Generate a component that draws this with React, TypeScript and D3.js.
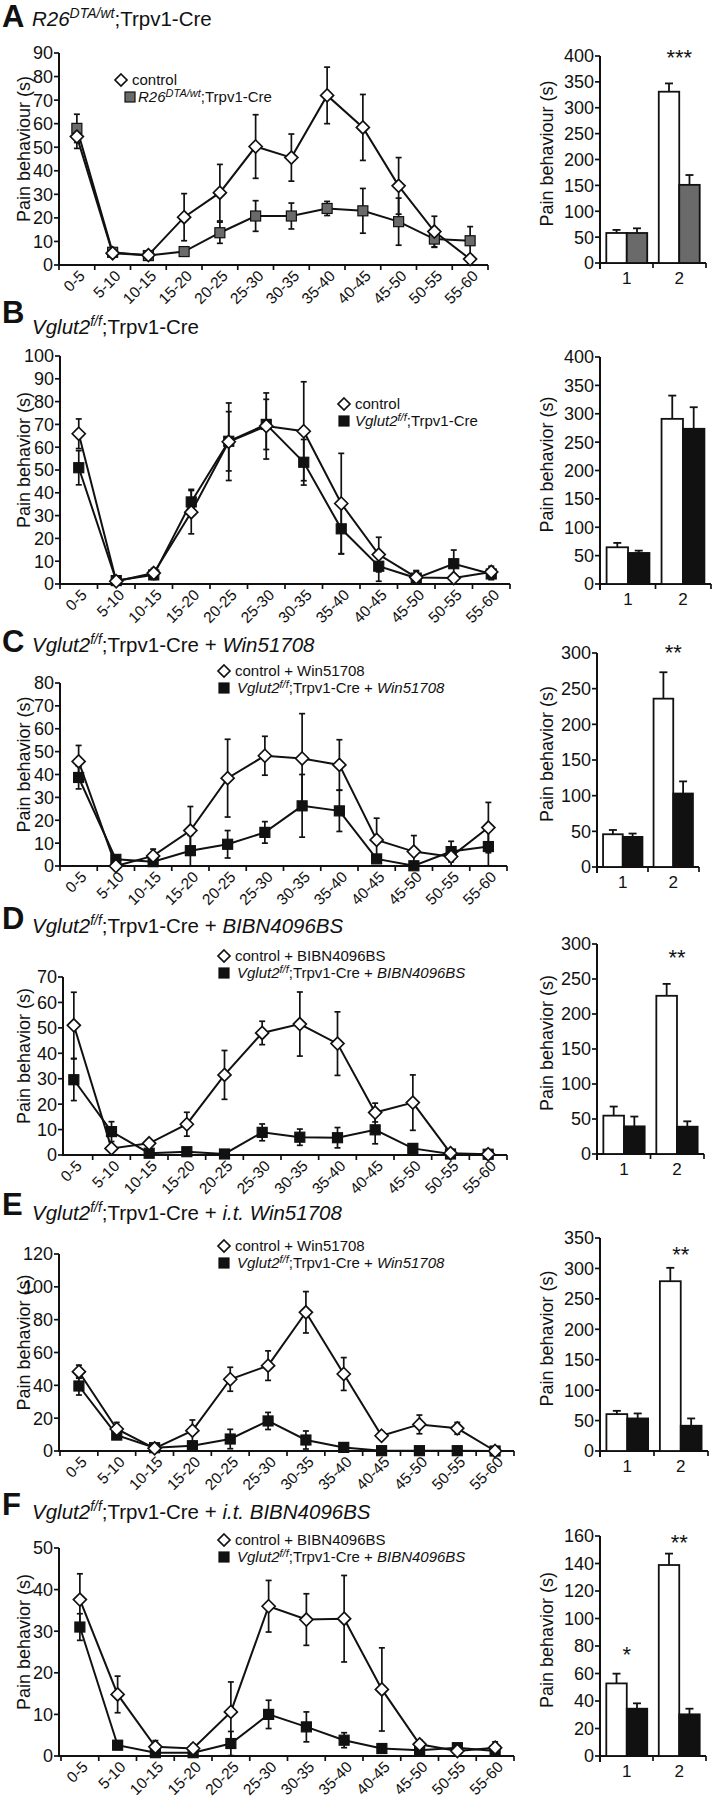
import React from "react";
import * as d3 from "d3";

const FONT = "'Liberation Sans', Arial, Helvetica, sans-serif";

const timeBins = ["0-5","5-10","10-15","15-20","20-25","25-30","30-35","35-40","40-45","45-50","50-55","55-60"];
const barGroups = ["1", "2"];

// Panel A
const controlA = [54.5, 5, 4.2, 20.3, 30.7, 50.3, 45.6, 72, 58.4, 33.6, 14.2, 2.5];
const controlAErr = [5, 1.5, 1.5, 10, 12, 13.5, 10, 12, 14, 12, 6.5, 1.5];
const mutantA = [58, 5.4, 4, 5.7, 13.7, 20.8, 20.8, 24, 23, 18.4, 11, 10.3];
const mutantAErr = [6, 1.5, 1.5, 1, 4.5, 6.5, 5.5, 3, 9.5, 10, 3.5, 6];
const barCtrlA = [58, 331];
const barCtrlAErr = [6, 16];
const barMutA = [58, 151];
const barMutAErr = [9, 19];

// Panel B
const controlB = [65.9, 1.2, 4.8, 31.5, 62.4, 69.3, 67, 35.3, 12.9, 2.9, 2.6, 5.3];
const controlBErr = [6.5, 1, 2, 9.5, 17, 14.5, 21.7, 22, 7.6, 3, 1.5, 2.5];
const mutantB = [51, 1.5, 4, 36, 62.6, 70, 53.4, 24.2, 7.8, 2.6, 8.9, 4.4];
const mutantBErr = [7.5, 1, 2, 5.5, 13, 11, 10, 11, 6.6, 3, 6, 2.5];
const barCtrlB = [64.7, 291];
const barCtrlBErr = [7.7, 41];
const barMutB = [54.7, 273.5];
const barMutBErr = [4.1, 38];

// Panel C
const controlC = [45.7, 0, 4.4, 15.5, 38.4, 48.2, 47, 44.2, 11.4, 6.3, 4.1, 16.8];
const controlCErr = [7, 1, 3, 10.5, 17, 8.5, 19.6, 11, 9.5, 7, 4, 11];
const mutantC = [38.7, 2.9, 1.9, 6.7, 9.5, 14.7, 26.3, 24.1, 3.1, 0.1, 6.3, 8.5];
const mutantCErr = [5, 1, 1, 6.7, 6, 4.7, 13.7, 9, 1, 0.5, 4.5, 8.5];
const barCtrlC = [45.9, 236];
const barCtrlCErr = [6, 37];
const barMutC = [42.2, 103];
const barMutCErr = [4.7, 17];

// Panel D
const controlD = [51, 2.6, 4.6, 12.1, 31.5, 48, 51.5, 43.8, 16.7, 20.6, 0.7, 0.3];
const controlDErr = [13, 1, 1, 4.7, 9.6, 4.6, 12.6, 12.5, 3.7, 10.9, 0.5, 0.3];
const mutantD = [29.6, 9.2, 0.7, 1.3, 0.4, 8.9, 7, 6.8, 9.9, 2.6, 0.4, 0.3];
const mutantDErr = [8.2, 3.9, 0.5, 0.5, 0.3, 3.3, 3.2, 4, 5.5, 0.8, 0.3, 0.3];
const barCtrlD = [54.8, 226];
const barCtrlDErr = [13, 17];
const barMutD = [39.5, 39];
const barMutDErr = [14, 7.7];

// Panel E
const controlE = [48.3, 13.4, 1.6, 12.4, 43.7, 52, 84.5, 46.9, 9.3, 16.2, 13.8, 0];
const controlEErr = [4, 4, 1, 6.5, 7.3, 9, 12.6, 10, 2, 5.7, 3.6, 0.5];
const mutantE = [39.6, 9.7, 2, 3.2, 7.3, 18.3, 6.7, 2.2, 0.2, 0.2, 0.2, 0];
const mutantEErr = [5.5, 2, 1, 1, 5.9, 5.2, 5.5, 0.5, 0.2, 0.2, 0.2, 0];
const barCtrlE = [60.6, 279];
const barCtrlEErr = [5.4, 22];
const barMutE = [53.5, 41.5];
const barMutEErr = [8.2, 12];

// Panel F
const controlF = [37.6, 14.8, 2.2, 1.8, 10.6, 36, 32.8, 33, 16, 2.8, 1.2, 2];
const controlFErr = [6.2, 4.4, 1.5, 1, 7.2, 6.2, 6.2, 10.4, 10, 1, 0.5, 1.4];
const mutantF = [31, 2.6, 0.8, 0.8, 3, 10, 7, 3.8, 1.8, 1.4, 2, 1.2];
const mutantFErr = [3.2, 1, 0.5, 0.5, 2.9, 3.4, 3.6, 1.8, 0.5, 0.5, 0.5, 0.5];
const barCtrlF = [52.8, 138.9];
const barCtrlFErr = [7.1, 8.3];
const barMutF = [34.4, 30.3];
const barMutFErr = [3.9, 4.1];

type Part = { t: string; i?: boolean; sup?: boolean };

const INK = "#111";

function RichText({ x, y, parts, size, supSize }: { x: number; y: number; parts: Part[]; size: number; supSize: number }) {
  const out: any[] = [];
  let shifted = false;
  parts.forEach((p, k) => {
    let dy = 0;
    if (p.sup && !shifted) { dy = -size * 0.38; shifted = true; }
    else if (!p.sup && shifted) { dy = size * 0.38; shifted = false; }
    out.push(
      <tspan key={k} dy={dy} fontStyle={p.i ? "italic" : "normal"} fontSize={p.sup ? supSize : size}>{p.t}</tspan>
    );
  });
  return <text x={x} y={y} fontFamily={FONT} fontSize={size} fill={INK}>{out}</text>;
}

function Diamond({ x, y, r }: { x: number; y: number; r: number }) {
  return <path d={`M${x},${y - r}L${x + r},${y}L${x},${y + r}L${x - r},${y}Z`} fill="#fff" stroke={INK} strokeWidth={1.7} />;
}
function Square({ x, y, s, fill }: { x: number; y: number; s: number; fill: string }) {
  return <rect x={x - s / 2} y={y - s / 2} width={s} height={s} fill={fill} stroke={INK} strokeWidth={1.2} />;
}

type LineProps = {
  ctrl: number[]; ctrlErr: number[]; mut: number[]; mutErr: number[]; mutColor: string;
  yMax: number; yStep: number; axisX: number; bandStart: number; bandEnd: number; yTop: number; yBottom: number;
  yLabel: string; legendX: number; legendY: number; legendSqDx: number; legendTextDx2: number; ctrlLabel: string; mutLabel: Part[];
};

function LineChart(p: LineProps) {
  const x = d3.scaleBand<string>().domain(timeBins).range([p.bandStart, p.bandEnd]);
  const y = d3.scaleLinear().domain([0, p.yMax]).range([p.yBottom, p.yTop]);
  const cx = (i: number) => (x(timeBins[i]) as number) + x.bandwidth() / 2;
  const line = d3.line<number>().x((_, i) => cx(i)).y((d) => y(d));
  const yTicks = d3.range(0, p.yMax + p.yStep / 2, p.yStep);
  const xTickPos = timeBins.map((b) => x(b) as number).concat([p.bandEnd]).filter((v) => v >= p.axisX - 0.5);
  const err = (vals: number[], errs: number[], key: string) =>
    vals.map((v, i) => {
      const e = errs[i];
      if (e <= 0.3) return null;
      const X = cx(i);
      const y1 = y(v + e), y2 = y(Math.max(0, v - e));
      return (
        <g key={key + i} stroke={INK} strokeWidth={1.7}>
          <line x1={X} x2={X} y1={y1} y2={y2} />
          <line x1={X - 3} x2={X + 3} y1={y1} y2={y1} />
          <line x1={X - 3} x2={X + 3} y1={y2} y2={y2} />
        </g>
      );
    });
  return (
    <g>
      <line x1={p.axisX} x2={p.axisX} y1={p.yTop} y2={p.yBottom + 1} stroke={INK} strokeWidth={2} />
      <line x1={p.axisX} x2={p.bandEnd} y1={p.yBottom} y2={p.yBottom} stroke={INK} strokeWidth={2} />
      {yTicks.map((t) => (
        <g key={"yt" + t}>
          <line x1={p.axisX - 5} x2={p.axisX} y1={y(t)} y2={y(t)} stroke={INK} strokeWidth={1.7} />
          <text x={p.axisX - 6} y={y(t)} dy="0.36em" textAnchor="end" fontFamily={FONT} fontSize={18} fill={INK}>{t}</text>
        </g>
      ))}
      {xTickPos.map((v, k) => (
        <line key={"xt" + k} x1={v} x2={v} y1={p.yBottom} y2={p.yBottom + 5} stroke={INK} strokeWidth={1.7} />
      ))}
      {timeBins.map((b, i) => (
        <text key={"xl" + b} transform={`translate(${cx(i) + 9},${p.yBottom + 12}) rotate(-45)`} textAnchor="end" fontFamily={FONT} fontSize={15.5} fill={INK}>{b}</text>
      ))}
      <text transform={`translate(30,${(p.yTop + p.yBottom) / 2 - 10}) rotate(-90)`} textAnchor="middle" fontFamily={FONT} fontSize={18} fill={INK}>{p.yLabel}</text>
      <path d={line(p.mut) || ""} fill="none" stroke={INK} strokeWidth={2} />
      <path d={line(p.ctrl) || ""} fill="none" stroke={INK} strokeWidth={2} />
      {err(p.mut, p.mutErr, "me")}
      {err(p.ctrl, p.ctrlErr, "ce")}
      {p.mut.map((v, i) => <Square key={"ms" + i} x={cx(i)} y={y(v)} s={10} fill={p.mutColor} />)}
      {p.ctrl.map((v, i) => <Diamond key={"cd" + i} x={cx(i)} y={y(v)} r={6.5} />)}
      <Diamond x={p.legendX} y={p.legendY} r={6} />
      <text x={p.legendX + 11} y={p.legendY} dy="0.36em" fontFamily={FONT} fontSize={15} fill={INK}>{p.ctrlLabel}</text>
      <Square x={p.legendX + p.legendSqDx} y={p.legendY + 17} s={10} fill={p.mutColor} />
      <RichText x={p.legendX + p.legendTextDx2} y={p.legendY + 17 + 5.4} parts={p.mutLabel} size={15} supSize={11} />
    </g>
  );
}

type BarProps = {
  ctrl: number[]; ctrlErr: number[]; mut: number[]; mutErr: number[]; mutColor: string;
  yMax: number; yStep: number; axisX: number; axisEnd: number; yTop: number; yBottom: number; yLabel: string;
  stars: { g: number; v: number; s: string }[];
};

function BarChart(p: BarProps) {
  const xg = d3.scaleBand<string>().domain(barGroups).range([p.axisX, p.axisEnd]).paddingInner(0.22).paddingOuter(0.12);
  const xs = d3.scaleBand<string>().domain(["c", "m"]).range([0, xg.bandwidth()]);
  const y = d3.scaleLinear().domain([0, p.yMax]).range([p.yBottom, p.yTop]);
  const yTicks = d3.range(0, p.yMax + p.yStep / 2, p.yStep);
  const mid = (p.axisX + p.axisEnd) / 2;
  const bars = (vals: number[], errs: number[], key: string, fill: string) =>
    vals.map((v, i) => {
      const bx = (xg(barGroups[i]) as number) + (xs(key) as number);
      const w = xs.bandwidth();
      const X = bx + w / 2;
      const yt = y(v), ye = y(v + errs[i]);
      return (
        <g key={key + i}>
          <line x1={X} x2={X} y1={yt} y2={ye} stroke={INK} strokeWidth={1.8} />
          <line x1={X - 4} x2={X + 4} y1={ye} y2={ye} stroke={INK} strokeWidth={1.8} />
          <rect x={bx} y={yt} width={w} height={p.yBottom - yt} fill={fill} stroke={INK} strokeWidth={1.8} />
        </g>
      );
    });
  return (
    <g>
      <line x1={p.axisX} x2={p.axisX} y1={p.yTop} y2={p.yBottom + 6} stroke={INK} strokeWidth={2} />
      <line x1={p.axisX} x2={p.axisEnd} y1={p.yBottom} y2={p.yBottom} stroke={INK} strokeWidth={2} />
      <line x1={mid} x2={mid} y1={p.yBottom} y2={p.yBottom + 5} stroke={INK} strokeWidth={1.7} />
      <line x1={p.axisEnd} x2={p.axisEnd} y1={p.yBottom} y2={p.yBottom + 5} stroke={INK} strokeWidth={1.7} />
      {yTicks.map((t) => (
        <g key={"byt" + t}>
          <line x1={p.axisX - 5} x2={p.axisX} y1={y(t)} y2={y(t)} stroke={INK} strokeWidth={1.7} />
          <text x={p.axisX - 6} y={y(t)} dy="0.36em" textAnchor="end" fontFamily={FONT} fontSize={18} fill={INK}>{t}</text>
        </g>
      ))}
      {barGroups.map((g) => (
        <text key={"bx" + g} x={(xg(g) as number) + xg.bandwidth() / 2} y={p.yBottom + 21} textAnchor="middle" fontFamily={FONT} fontSize={17} fill={INK}>{g}</text>
      ))}
      <text transform={`translate(553,${(p.yTop + p.yBottom) / 2 - 6}) rotate(-90)`} textAnchor="middle" fontFamily={FONT} fontSize={18} fill={INK}>{p.yLabel}</text>
      {bars(p.ctrl, p.ctrlErr, "c", "#fff")}
      {bars(p.mut, p.mutErr, "m", p.mutColor)}
      {p.stars.map((s, k) => (
        <text key={"st" + k} x={(xg(barGroups[s.g]) as number) + xg.bandwidth() / 2} y={y(s.v) + 12} textAnchor="middle" fontFamily={FONT} fontSize={22} fill={INK}>{s.s}</text>
      ))}
    </g>
  );
}

function Title({ letter, letterY, titleY, parts }: { letter: string; letterY: number; titleY: number; parts: Part[] }) {
  return (
    <g>
      <text x={2} y={letterY} fontFamily={FONT} fontWeight="bold" fontSize={31} fill={INK}>{letter}</text>
      <RichText x={32} y={titleY} parts={parts} size={20.5} supSize={14} />
    </g>
  );
}

const vglut: Part[] = [{ t: "Vglut2", i: true }, { t: "f/f", i: true, sup: true }, { t: ";Trpv1-Cre" }];
const r26: Part[] = [{ t: "R26", i: true }, { t: "DTA/wt", i: true, sup: true }, { t: ";Trpv1-Cre" }];

export default function App() {
  const GRAY = "#6a6a6a";
  const BLACK = "#111";
  return (
    <svg width={715} height={1800} style={{ position: "absolute", left: 0, top: 0, background: "#fff" }}>
      <rect width={715} height={1800} fill="#fff" />
      {/* A */}
      <Title letter="A" letterY={27} titleY={26} parts={r26} />
      <LineChart ctrl={controlA} ctrlErr={controlAErr} mut={mutantA} mutErr={mutantAErr} mutColor={GRAY}
        yMax={90} yStep={10} axisX={59} bandStart={59} bandEnd={488} yTop={53} yBottom={265}
        yLabel="Pain behaviour (s)" legendX={121} legendY={80} legendSqDx={9} legendTextDx2={17}
        ctrlLabel="control" mutLabel={r26} />
      <BarChart ctrl={barCtrlA} ctrlErr={barCtrlAErr} mut={barMutA} mutErr={barMutAErr} mutColor={GRAY}
        yMax={400} yStep={50} axisX={600} axisEnd={706} yTop={56} yBottom={263} yLabel="Pain behaviour (s)"
        stars={[{ g: 1, v: 405, s: "***" }]} />

      {/* B */}
      <Title letter="B" letterY={323} titleY={334} parts={vglut} />
      <LineChart ctrl={controlB} ctrlErr={controlBErr} mut={mutantB} mutErr={mutantBErr} mutColor={BLACK}
        yMax={100} yStep={10} axisX={60} bandStart={60} bandEnd={510} yTop={356} yBottom={584}
        yLabel="Pain behavior (s)" legendX={344} legendY={404} legendSqDx={0} legendTextDx2={11}
        ctrlLabel="control" mutLabel={vglut} />
      <BarChart ctrl={barCtrlB} ctrlErr={barCtrlBErr} mut={barMutB} mutErr={barMutBErr} mutColor={BLACK}
        yMax={400} yStep={50} axisX={600} axisEnd={711} yTop={357} yBottom={584} yLabel="Pain behavior (s)"
        stars={[]} />

      {/* C */}
      <Title letter="C" letterY={652} titleY={652} parts={[...vglut, { t: " + " }, { t: "Win51708", i: true }]} />
      <LineChart ctrl={controlC} ctrlErr={controlCErr} mut={mutantC} mutErr={mutantCErr} mutColor={BLACK}
        yMax={80} yStep={10} axisX={60} bandStart={60} bandEnd={507} yTop={683} yBottom={866}
        yLabel="Pain behavior (s)" legendX={224} legendY={671} legendSqDx={0} legendTextDx2={13}
        ctrlLabel="control + Win51708" mutLabel={[...vglut, { t: " + " }, { t: "Win51708", i: true }]} />
      <BarChart ctrl={barCtrlC} ctrlErr={barCtrlCErr} mut={barMutC} mutErr={barMutCErr} mutColor={BLACK}
        yMax={300} yStep={50} axisX={597} axisEnd={699} yTop={653} yBottom={867} yLabel="Pain behavior (s)"
        stars={[{ g: 1, v: 307, s: "**" }]} />

      {/* D */}
      <Title letter="D" letterY={929} titleY={933} parts={[...vglut, { t: " + " }, { t: "BIBN4096BS", i: true }]} />
      <LineChart ctrl={controlD} ctrlErr={controlDErr} mut={mutantD} mutErr={mutantDErr} mutColor={BLACK}
        yMax={70} yStep={10} axisX={63} bandStart={55} bandEnd={507} yTop={977} yBottom={1155}
        yLabel="Pain behavior (s)" legendX={224} legendY={956} legendSqDx={0} legendTextDx2={13}
        ctrlLabel="control + BIBN4096BS" mutLabel={[...vglut, { t: " + " }, { t: "BIBN4096BS", i: true }]} />
      <BarChart ctrl={barCtrlD} ctrlErr={barCtrlDErr} mut={barMutD} mutErr={barMutDErr} mutColor={BLACK}
        yMax={300} yStep={50} axisX={597} axisEnd={704} yTop={944} yBottom={1154} yLabel="Pain behavior (s)"
        stars={[{ g: 1, v: 287, s: "**" }]} />

      {/* E */}
      <Title letter="E" letterY={1215} titleY={1220} parts={[...vglut, { t: " + " }, { t: "i.t. Win51708", i: true }]} />
      <LineChart ctrl={controlE} ctrlErr={controlEErr} mut={mutantE} mutErr={mutantEErr} mutColor={BLACK}
        yMax={120} yStep={20} axisX={59} bandStart={60} bandEnd={514} yTop={1254} yBottom={1451}
        yLabel="Pain behavior (s)" legendX={224} legendY={1246} legendSqDx={0} legendTextDx2={13}
        ctrlLabel="control + Win51708" mutLabel={[...vglut, { t: " + " }, { t: "Win51708", i: true }]} />
      <BarChart ctrl={barCtrlE} ctrlErr={barCtrlEErr} mut={barMutE} mutErr={barMutEErr} mutColor={BLACK}
        yMax={350} yStep={50} axisX={600} axisEnd={708} yTop={1238} yBottom={1451} yLabel="Pain behavior (s)"
        stars={[{ g: 1, v: 330, s: "**" }]} />

      {/* F */}
      <Title letter="F" letterY={1515} titleY={1519} parts={[...vglut, { t: " + " }, { t: "i.t. BIBN4096BS", i: true }]} />
      <LineChart ctrl={controlF} ctrlErr={controlFErr} mut={mutantF} mutErr={mutantFErr} mutColor={BLACK}
        yMax={50} yStep={10} axisX={59} bandStart={61} bandEnd={514} yTop={1548} yBottom={1756}
        yLabel="Pain behavior (s)" legendX={224} legendY={1540} legendSqDx={0} legendTextDx2={13}
        ctrlLabel="control + BIBN4096BS" mutLabel={[...vglut, { t: " + " }, { t: "BIBN4096BS", i: true }]} />
      <BarChart ctrl={barCtrlF} ctrlErr={barCtrlFErr} mut={barMutF} mutErr={barMutFErr} mutColor={BLACK}
        yMax={160} yStep={20} axisX={600} axisEnd={706} yTop={1536} yBottom={1756} yLabel="Pain behavior (s)"
        stars={[{ g: 0, v: 77, s: "*" }, { g: 1, v: 158.5, s: "**" }]} />
    </svg>
  );
}
